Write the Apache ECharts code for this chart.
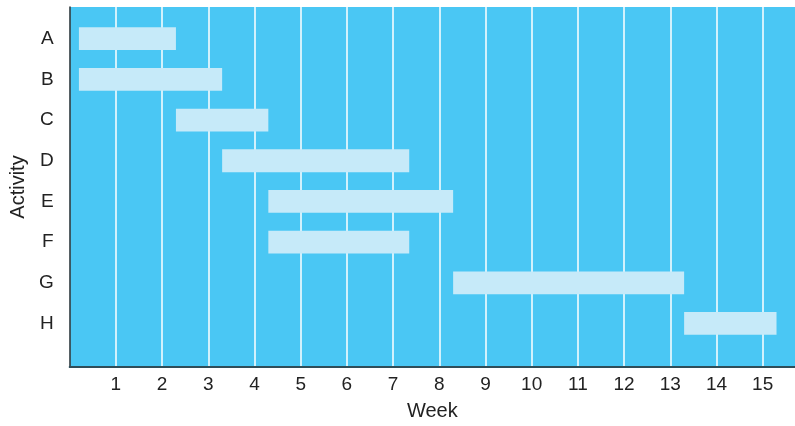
<!DOCTYPE html>
<html>
<head>
<meta charset="utf-8">
<script src="https://cdn.jsdelivr.net/npm/echarts@6/dist/echarts.min.js"></script>
<style>html,body{margin:0;padding:0;background:#fff}#c{width:795px;height:426px}</style>
</head>
<body>
<div id="c"></div>
<script>
const activities = ['A','B','C','D','E','F','G','H'];
const startWeek = [0.2, 0.2, 2.3, 3.3, 4.3, 4.3, 8.3, 13.3];
const endWeek   = [2.3, 3.3, 4.3, 7.35, 8.3, 7.35, 13.3, 15.3];
const weekTicks = [1,2,3,4,5,6,7,8,9,10,11,12,13,14,15];

const data = activities.map((a, i) => [startWeek[i], endWeek[i], i]);

const chart = echarts.init(document.getElementById('c'));
chart.setOption({
  animation: false,
  grid: {left: 67, top: 7, right: 0, bottom: 55, show: true, backgroundColor: '#4AC7F4', borderWidth: 0},
  xAxis: {
    type: 'value', min: 0, max: 15.7, interval: 1,
    name: 'Week', nameLocation: 'middle', nameGap: 34,
    nameTextStyle: {fontFamily: 'Liberation Sans', fontSize: 20, color: '#222'},
    axisLine: {show: true, onZero: false, lineStyle: {color: '#2f4d58', width: 2}},
    axisTick: {show: false},
    axisLabel: {customValues: weekTicks, fontFamily: 'Liberation Sans', fontSize: 19, color: '#222', margin: 8},
    splitLine: {show: true, showMinLine: false, showMaxLine: false, lineStyle: {color: '#ffffff', width: 1.5}}
  },
  yAxis: {
    type: 'value', inverse: true, min: -0.78, max: 8.07,
    name: 'Activity', nameLocation: 'middle', nameGap: 37, nameRotate: 90,
    nameTextStyle: {fontFamily: 'Liberation Sans', fontSize: 20, color: '#222'},
    axisLine: {show: true, onZero: false, lineStyle: {color: '#333', width: 1.5}},
    axisTick: {show: false},
    splitLine: {show: false},
    axisLabel: {customValues: activities.map((a, i) => i), formatter: v => activities[Math.round(v)] || '',
      fontFamily: 'Liberation Sans', fontSize: 19, color: '#222', margin: 16}
  },
  series: [{
    type: 'custom',
    data: data,
    encode: {x: [0, 1], y: 2},
    renderItem: function (params, api) {
      const s = api.coord([api.value(0), api.value(2)]);
      const e = api.coord([api.value(1), api.value(2)]);
      const h = api.size([0, 0.56])[1];
      return {type: 'rect', shape: {x: s[0], y: s[1] - h / 2, width: e[0] - s[0], height: h},
        style: {fill: '#C6EAF9'}};
    }
  }]
});
</script>
</body>
</html>
